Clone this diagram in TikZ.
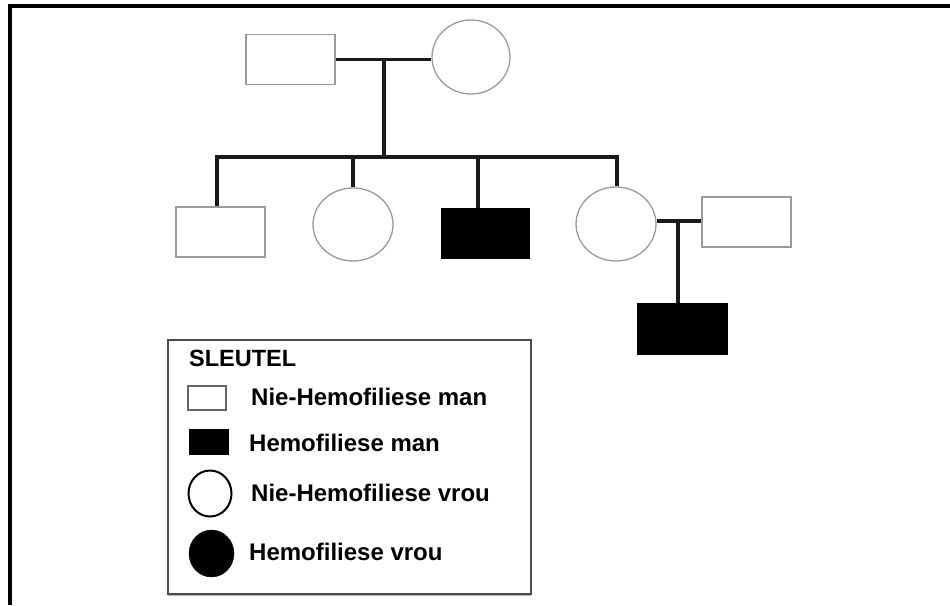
\documentclass[tikz,border=0pt]{standalone}
\usepackage{fontspec}
\setmainfont{Liberation Sans}
\usetikzlibrary{shapes.geometric}
\definecolor{shapegray}{HTML}{9A9A9A}
\definecolor{linedark}{HTML}{1A1A1A}
\tikzset{
  malebox/.style={draw=shapegray, line width=1.3pt, fill=white, rectangle, inner sep=0pt, minimum width=89pt, minimum height=50pt},
  maleaff/.style={draw=black, fill=black, rectangle, inner sep=0pt, minimum width=89pt, minimum height=50pt},
  femalecirc/.style={draw=shapegray, line width=1.3pt, fill=white, ellipse, inner sep=0pt, minimum width=79pt, minimum height=74pt},
  link/.style={draw=linedark, line width=3.3pt},
  keytext/.style={anchor=base west, inner sep=0pt, font=\fontsize{24}{28}\selectfont\bfseries},
}
\begin{document}
\begin{tikzpicture}[x=1pt,y=-1pt]
\useasboundingbox (0,0) rectangle (950,605);
% outer frame
\draw[line width=3.2pt, black] (10,605) -- (10,6) -- (950,6);

% generation I
\node[malebox] (father) at (290.5,59.5) {};
\node[femalecirc, minimum width=78pt, minimum height=74pt] (mother) at (471,57) {};
\coordinate (m1) at (384,59.5);
\draw[link] (father.east) -- (father.east -| mother.west);

% generation II
\node[malebox] (c1) at (220.5,232) {};
\node[femalecirc, minimum width=80pt, minimum height=73pt] (c2) at (353,224.5) {};
\node[maleaff, minimum width=88pt] (c3) at (485,233) {};
\node[femalecirc, minimum width=80pt, minimum height=74pt] (c4) at (616,224) {};
\node[malebox] (spouse) at (746.5,222) {};

\coordinate (b1) at (217,157);
\coordinate (b2) at (353,157);
\coordinate (b3) at (478,157);
\coordinate (b4) at (617,157);
\draw[link] (m1) -- (m1 |- b1);
\draw[link, line cap=rect] (b1) -- (b4);
\draw[link] (b1) -- (b1 |- c1.north);
\draw[link] (b2) -- (c2.north);
\draw[link] (b3) -- (b3 |- c3.north);
\draw[link] (b4) -- (b4 |- c4.north);

% generation III
\coordinate (m2) at (678,221);
\node[maleaff, minimum width=90pt, minimum height=51pt] (gc) at (682,328.5) {};
\draw[link] (c4.east |- m2) -- (spouse.west |- m2);
\draw[link] (m2) -- (m2 |- gc.north);

% legend
\draw[gray!60, line width=2pt] (168,595) -- (531,595);
\node[draw=black!70, line width=1.5pt, fill=white, rectangle, inner sep=0pt, minimum width=363pt, minimum height=254pt, anchor=north west] (key) at (167,339) {};
\node[anchor=base west, inner sep=0pt, font=\fontsize{23.5}{28}\selectfont\bfseries] (keytitle) at (189,366.5) {SLEUTEL};

\node[draw=black!60, line width=1.5pt, rectangle, inner sep=0pt, minimum width=38pt, minimum height=24pt] (k1) at (207,398) {};
\node[keytext] (t1) at (251,405.5) {Nie-Hemofiliese man};

\node[draw=black, fill=black, rectangle, inner sep=0pt, minimum width=39pt, minimum height=25pt] (k2) at (208.5,441.5) {};
\node[keytext] (t2) at (249,451.5) {Hemofiliese man};

\node[draw=black, line width=2pt, ellipse, inner sep=0pt, minimum width=43pt, minimum height=46pt] (k3) at (210,493.5) {};
\node[keytext] (t3) at (251,501) {Nie-Hemofiliese vrou};

\node[draw=black, fill=black, ellipse, inner sep=0pt, minimum width=45pt, minimum height=47pt] (k4) at (211.5,553.5) {};
\node[keytext] (t4) at (249,560) {Hemofiliese vrou};
\end{tikzpicture}
\end{document}
